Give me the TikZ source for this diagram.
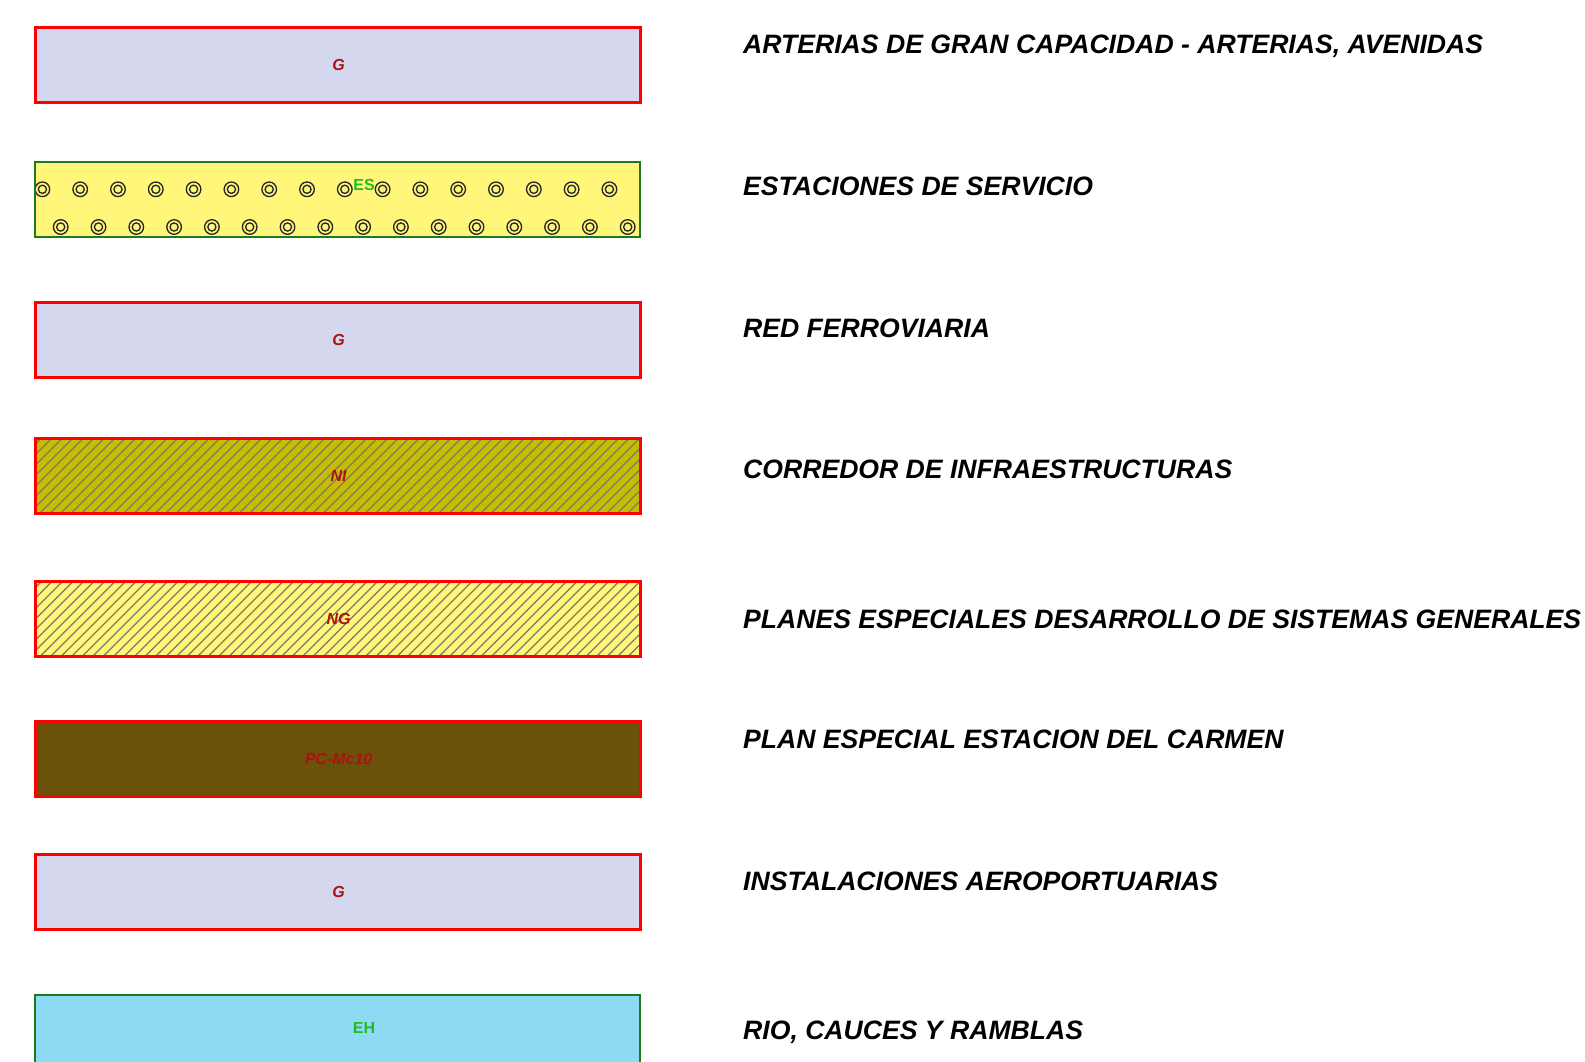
\documentclass[tikz,border=0pt]{standalone}
\usepackage{fontspec}
\setmainfont{Liberation Sans}
\definecolor{lav}{HTML}{D5D7EE}
\definecolor{yel}{HTML}{FFF67A}
\definecolor{olv}{HTML}{C6BC00}
\definecolor{brn}{HTML}{6B520A}
\definecolor{sky}{HTML}{8FDAF3}
\definecolor{dgreen}{HTML}{1E7A1E}
\definecolor{lblred}{HTML}{B01010}
\definecolor{lblgreen}{HTML}{22BB22}
\definecolor{hatchc}{HTML}{7A7A6A}
\tikzset{
  legbox/.style={minimum width=604.6pt, minimum height=75pt, inner sep=0pt, outer sep=0pt},
  redline/.style={legbox, draw=red, line width=3pt},
  greenline/.style={legbox, draw=dgreen, line width=2pt},
  hatched/.style={path picture={
     \foreach \i in {-90,-79.5,...,615}
       \draw[hatchc, line width=1.1pt] (path picture bounding box.south west) ++(\i,0) -- ++(90,-90);
  }},
  codered/.style={text=lblred, font=\fontsize{16}{18}\selectfont\bfseries\itshape},
  codegreen/.style={text=lblgreen, font=\fontsize{16}{18}\selectfont\bfseries},
  legtext/.style={anchor=base west, inner sep=0pt, font=\fontsize{26.6}{30}\selectfont\bfseries\itshape},
  ring/.style={draw=black!85, line width=1.3pt}
}
\begin{document}
\begin{tikzpicture}[x=1pt, y=-1pt]
\useasboundingbox (0,0) rectangle (1585,1062);

% 1
\node[redline, fill=lav] (b1) at (337.7,64.6) {};
\node[codered] (l1) at (338.6,64.7) {G};
\node[legtext] (t1) at (743,54) {ARTERIAS DE GRAN CAPACIDAD - ARTERIAS, AVENIDAS};

% 2
\node[legbox, fill=yel] (b2) at (337.7,199.6) {};
\begin{scope}
  \clip (b2.north west) rectangle (b2.south east);
  \foreach \k in {0,...,16} \draw[ring] (42.4+37.8*\k,189.3) circle (7.3) circle (4.1);
  \foreach \k in {0,...,15} \draw[ring] (60.7+37.8*\k,227) circle (7.3) circle (4.1);
\end{scope}
\draw[dgreen, line width=2pt] (b2.north west) rectangle (b2.south east);
\node[codegreen] (l2) at (364,185) {ES};
\node[legtext] (t2) at (743,195.6) {ESTACIONES DE SERVICIO};

% 3
\node[redline, fill=lav] (b3) at (337.7,340.1) {};
\node[codered] (l3) at (338.6,340.4) {G};
\node[legtext] (t3) at (743,337) {RED FERROVIARIA};

% 4
\node[redline, fill=olv, hatched] (b4) at (337.7,475.6) {};
\node[codered] (l4) at (338.6,475.5) {NI};
\node[legtext] (t4) at (743,478.6) {CORREDOR DE INFRAESTRUCTURAS};

% 5
\node[redline, fill=yel, hatched] (b5) at (337.7,619.1) {};
\node[codered] (l5) at (338.6,619) {NG};
\node[legtext] (t5) at (743,628) {PLANES ESPECIALES DESARROLLO DE SISTEMAS GENERALES};

% 6
\node[redline, fill=brn] (b6) at (337.7,758.6) {};
\node[codered] (l6) at (338.6,759) {PC-Mc10};
\node[legtext] (t6) at (743,748.5) {PLAN ESPECIAL ESTACION DEL CARMEN};

% 7
\node[redline, fill=lav] (b7) at (337.7,892) {};
\node[codered] (l7) at (338.6,891.5) {G};
\node[legtext] (t7) at (743,890) {INSTALACIONES AEROPORTUARIAS};

% 8
\node[greenline, fill=sky] (b8) at (337.7,1032.1) {};
\node[codegreen] (l8) at (364,1028) {EH};
\node[legtext] (t8) at (743,1039.6) {RIO, CAUCES Y RAMBLAS};
\end{tikzpicture}
\end{document}
